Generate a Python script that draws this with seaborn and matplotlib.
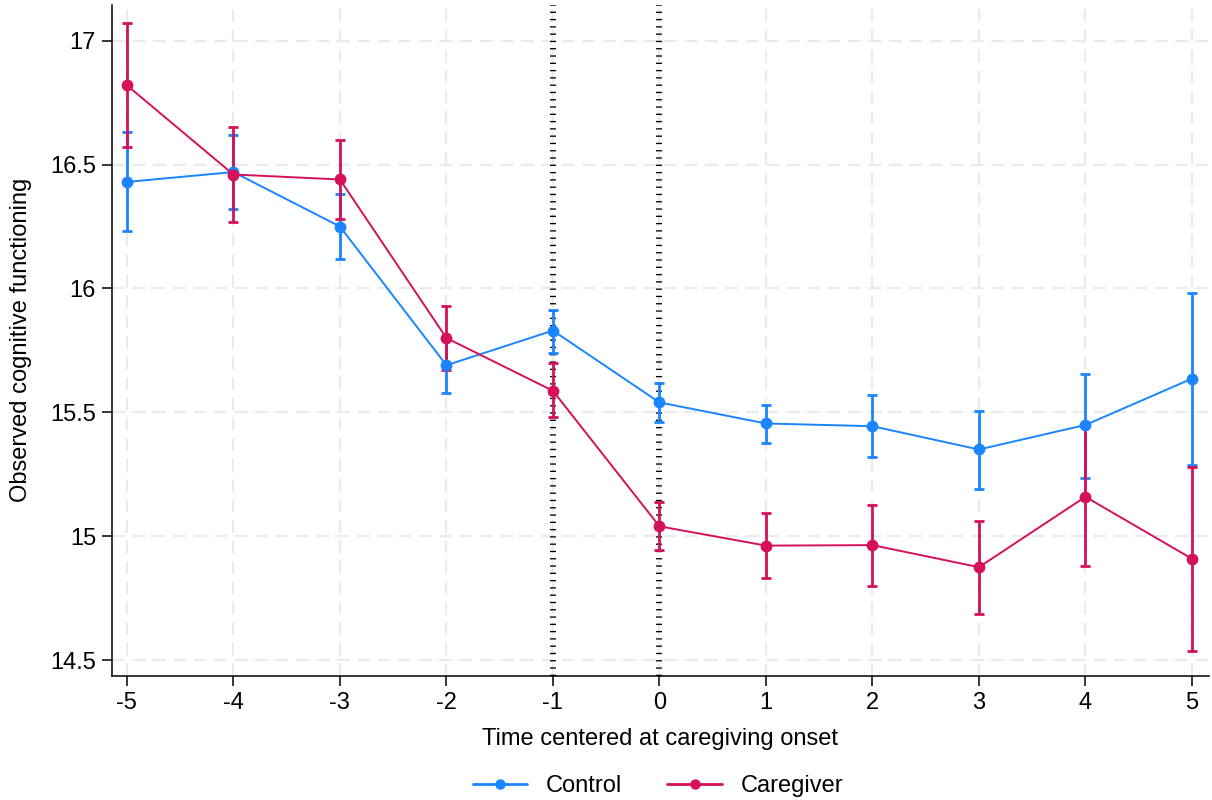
import numpy as np
import pandas as pd
import matplotlib
matplotlib.use("Agg")
import matplotlib.pyplot as plt
import seaborn as sns
from matplotlib.lines import Line2D

# ---- data ----
time = [-5, -4, -3, -2, -1, 0, 1, 2, 3, 4, 5]
control_mean = [16.43, 16.47, 16.25, 15.69, 15.83, 15.54, 15.455, 15.444, 15.35, 15.449, 15.636]
control_lo = [16.23, 16.32, 16.12, 15.58, 15.74, 15.46, 15.377, 15.32, 15.19, 15.235, 15.287]
control_hi = [16.63, 16.62, 16.38, 15.80, 15.915, 15.62, 15.53, 15.571, 15.506, 15.654, 15.982]
care_mean = [16.82, 16.46, 16.44, 15.80, 15.587, 15.04, 14.962, 14.964, 14.875, 15.159, 14.909]
care_lo = [16.57, 16.27, 16.28, 15.67, 15.48, 14.945, 14.832, 14.80, 14.684, 14.881, 14.538]
care_hi = [17.07, 16.65, 16.60, 15.93, 15.70, 15.14, 15.093, 15.127, 15.063, 15.443, 15.281]
groups = ["Control", "Caregiver"]
y_ticks = [14.5, 15, 15.5, 16, 16.5, 17]
y_ticklabels = ["14.5", "15", "15.5", "16", "16.5", "17"]
onset_lines = [-1, 0]

colors = {"Control": "#1A85FF", "Caregiver": "#D41159"}

sns.set_theme(style="white")
plt.rcParams['font.family'] = ['Liberation Sans', 'DejaVu Sans']
plt.rcParams['text.color'] = 'black'
plt.rcParams['axes.labelcolor'] = 'black'
plt.rcParams['xtick.color'] = 'black'
plt.rcParams['ytick.color'] = 'black'

df = pd.DataFrame({
    "time": time * 2,
    "mean": control_mean + care_mean,
    "lo": control_lo + care_lo,
    "hi": control_hi + care_hi,
    "group": ["Control"] * len(time) + ["Caregiver"] * len(time),
})

fs = 17
fig = plt.figure(figsize=(12.12, 8.0), dpi=100)
ax = fig.add_axes([0.0924, 0.1554, 0.9051, 0.8386])

# grid
grid_ls = (0, (5.8, 3.4))
for yt in y_ticks:
    ax.axhline(yt, color="#ebebeb", lw=1.6, ls=grid_ls, zorder=0)
for xt in time:
    ax.axvline(xt, color="#ebebeb", lw=1.6, ls=grid_ls, zorder=0)

# onset reference lines (stacked short ticks)
for xv in onset_lines:
    ln = ax.axvline(xv, color="black", lw=4.3, zorder=1)
    ln.set_dashes((0.22, 1.0))
    ln.set_dash_capstyle("butt")

# error bars
for g in groups:
    sub = df[df["group"] == g]
    ax.errorbar(sub["time"], sub["mean"],
                yerr=[sub["mean"] - sub["lo"], sub["hi"] - sub["mean"]],
                fmt="none", ecolor=colors[g], elinewidth=2.0,
                capsize=3.5, capthick=2.0, zorder=2)

# lines with markers
sns.lineplot(data=df, x="time", y="mean", hue="group", hue_order=groups,
             palette=colors, marker="o", markersize=8.5, markeredgewidth=0,
             linewidth=1.4, errorbar=None, ax=ax, zorder=3, legend=False)

ax.set_xlim(-5.14, 5.16)
ax.set_ylim(14.437, 17.145)
ax.set_xticks(time)
ax.set_xticklabels([str(t) for t in time])
ax.set_yticks(y_ticks)
ax.set_yticklabels(y_ticklabels)

for s in ["top", "right"]:
    ax.spines[s].set_visible(False)
for s in ["left", "bottom"]:
    ax.spines[s].set_color("black")
    ax.spines[s].set_linewidth(1.1)

ax.tick_params(axis="both", which="both", direction="out", length=7,
               width=1.1, color="black", labelsize=fs, pad=4.5,
               bottom=True, left=True)
ax.set_xlabel("Time centered at caregiving onset", fontsize=fs, labelpad=10)
ax.set_ylabel("Observed cognitive functioning", fontsize=fs, labelpad=13)

handles = [Line2D([0], [0], color=colors[g], lw=2.0, marker="o",
                  markersize=7.5, markeredgewidth=0) for g in groups]
fig.legend(handles, groups, loc="center", bbox_to_anchor=(0.543, 0.017),
           ncol=2, frameon=False, fontsize=fs, handlelength=2.3,
           columnspacing=1.9, handletextpad=0.8, borderaxespad=0, borderpad=0)

fig.savefig("out.png", dpi=100)
